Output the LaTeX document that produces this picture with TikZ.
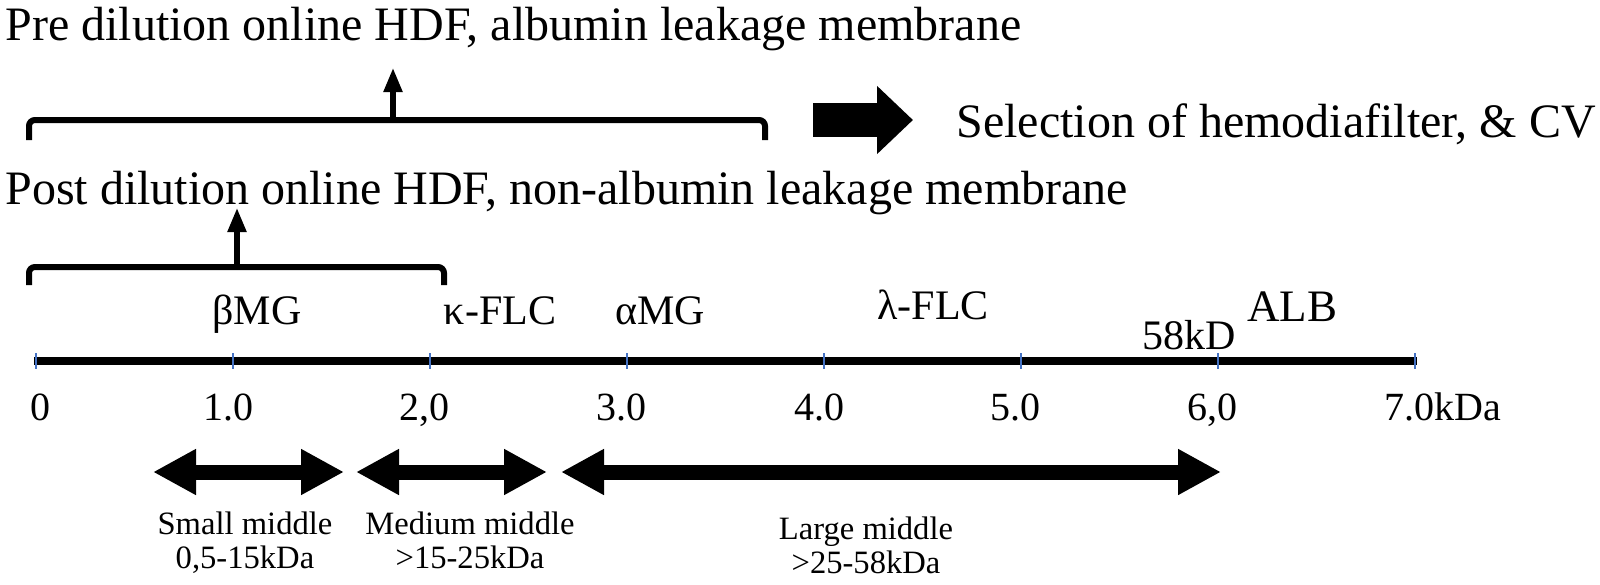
\documentclass[tikz,border=0pt]{standalone}
\usepackage{fontspec}
\setmainfont{Liberation Serif}
\usetikzlibrary{arrows.meta}
\definecolor{tickblue}{HTML}{4472C4}
\tikzset{
  fbig/.style={font=\fontsize{24}{28}\selectfont, inner sep=0pt},
  flab/.style={font=\fontsize{21}{25}\selectfont, inner sep=0pt},
  ftick/.style={font=\fontsize{20}{24}\selectfont, inner sep=0pt},
  fsmall/.style={font=\fontsize{16.3}{17}\selectfont, inner sep=0pt, align=center},
  bracepath/.style={line width=3pt, rounded corners=3pt},
  uparrow/.style={line width=2.6pt, -{Triangle[width=9pt,length=12pt]}},
  rangearrow/.style={line width=7.5pt, {Triangle[width=21.5pt,length=21.5pt]}-{Triangle[width=21.5pt,length=21.5pt]}},
  axisline/.style={line width=4pt},
  tickmark/.style={tickblue, line width=1.2pt},
}
\begin{document}
\begin{tikzpicture}[x=0.5pt,y=-0.5pt]
\useasboundingbox (0,0) rectangle (1600,584);
% top texts
\node[fbig, anchor=base west] (pre) at (5,40) {Pre dilution online HDF, albumin leakage membrane};
\node[fbig, anchor=base west] (post) at (5,204) {Post dilution online HDF, non-albumin leakage membrane};
\node[fbig, anchor=base west] (sel) at (956,137) {Selection of hemodiafilter, \& CV};
% top brace
\coordinate (tbl) at (29,140);
\coordinate (tbr) at (765,140);
\coordinate (tbm) at (393,120);
\coordinate (tbt) at (393,68);
\draw[bracepath] (tbl) -- (29,120) -- (765,120) -- (tbr);
\draw[uparrow] (tbm) -- (tbt);
% big arrow
\coordinate (ba1) at (813,120);
\coordinate (ba2) at (913,120);
\draw[line width=17pt, -{Triangle[width=33pt,length=18pt]}] (ba1) -- (ba2);
% lower brace
\coordinate (lbl) at (29,285);
\coordinate (lbr) at (444,285);
\coordinate (lbm) at (237,267);
\coordinate (lbt) at (237,208);
\draw[bracepath] (lbl) -- (29,267) -- (444,267) -- (lbr);
\draw[uparrow] (lbm) -- (lbt);
% labels row
\node[flab, anchor=base] (bmg) at (257,324) {βMG};
\node[flab, anchor=base] (kflc) at (500,324) {κ-FLC};
\node[flab, anchor=base] (amg) at (660,324) {αMG};
\node[flab, anchor=base] (lflc) at (933,319) {λ-FLC};
\node[flab, anchor=base] (kd58) at (1189,349) {58kD};
\node[flab, anchor=base, font=\fontsize{22.5}{26}\selectfont] (alb) at (1292,321) {ALB};
% axis
\coordinate (ax0) at (34,361);
\coordinate (ax1) at (1417,361);
\draw[axisline] (ax0) -- (ax1);
\foreach \i in {0,...,7} {
  \draw[tickmark] (36+197*\i,353) -- (36+197*\i,369);
}
\node[ftick, anchor=base] (t0) at (41,420) {0};
\node[ftick, anchor=base] (t1) at (228,420) {1.0};
\node[ftick, anchor=base] (t2) at (424,420) {2,0};
\node[ftick, anchor=base] (t3) at (621,420) {3.0};
\node[ftick, anchor=base] (t4) at (819,420) {4.0};
\node[ftick, anchor=base] (t5) at (1015,420) {5.0};
\node[ftick, anchor=base] (t6) at (1212,420) {6,0};
\node[ftick, anchor=base west] (t7) at (1384,420) {7.0kDa};
% range arrows
\coordinate (s1) at (153,472);
\coordinate (s2) at (344,472);
\coordinate (m1) at (356,472);
\coordinate (m2) at (547,472);
\coordinate (l1) at (561,472);
\coordinate (l2) at (1221,472);
\draw[rangearrow] (s1) -- (s2);
\draw[rangearrow] (m1) -- (m2);
\draw[rangearrow] (l1) -- (l2);
% range labels (base = baseline of the last line)
\node[fsmall, anchor=base] (sm) at (245,568) {Small middle\\0,5-15kDa};
\node[fsmall, anchor=base] (mm) at (470,568) {Medium middle\\>15-25kDa};
\node[fsmall, anchor=base] (lm) at (866,573) {Large middle\\>25-58kDa};
\end{tikzpicture}
\end{document}
